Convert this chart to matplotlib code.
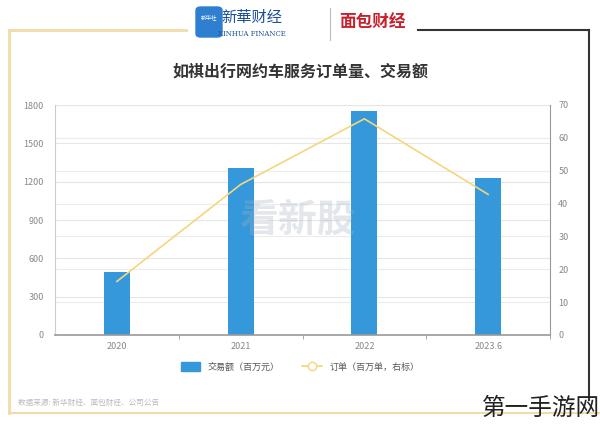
import matplotlib.pyplot as plt
from matplotlib.lines import Line2D
from matplotlib.patches import FancyBboxPatch

plt.rcParams['font.family'] = ['Noto Sans CJK SC', 'DejaVu Sans']

# 数据
years = ['2020', '2021', '2022', '2023.6']
gmv = [490, 1305, 1750, 1228]          # 交易额（百万元）
orders = [16.3, 45.8, 65.8, 42.8]      # 订单（百万单，右标）
left_ticks = [0, 300, 600, 900, 1200, 1500, 1800]
right_ticks = [0, 10, 20, 30, 40, 50, 60, 70]

W, H = 600, 424
fig = plt.figure(figsize=(6, 4.24), dpi=100)
fig.patch.set_facecolor('white')


def fx(px):
    return px / W


def fy(py):
    return 1 - py / H


# 外框
gold = '#f0dca8'
fig.add_artist(Line2D([fx(9), fx(9)], [fy(30), fy(413)], color=gold, lw=2))
fig.add_artist(Line2D([fx(9), fx(186)], [fy(30), fy(30)], color=gold, lw=2))
fig.add_artist(Line2D([fx(9), fx(600)], [fy(413), fy(413)], color=gold, lw=1.5))
fig.add_artist(Line2D([fx(418), fx(589)], [fy(30), fy(30)], color='#333333', lw=1.5))
fig.add_artist(Line2D([fx(589), fx(589)], [fy(30), fy(400)], color='#333333', lw=1.5))

# 标志
fig.add_artist(FancyBboxPatch((fx(196), fy(37)), fx(26), 30 / H,
                              boxstyle='round,pad=0,rounding_size=0.008',
                              color='#2f7fd0', transform=fig.transFigure))
fig.text(fx(209), fy(17), '新华社', fontsize=4, color='white', ha='center', va='center')
fig.text(fx(252), fy(17), '新華财经', fontsize=11, color='#1d4f9a', ha='center',
         va='center', style='italic')
fig.text(fx(252), fy(34), 'XINHUA FINANCE', fontsize=5, color='#1d4f9a', ha='center',
         va='center', family='DejaVu Serif')
fig.add_artist(Line2D([fx(330), fx(330)], [fy(8), fy(40)], color='#bbbbbb', lw=0.8))
fig.text(fx(372), fy(22), '面包财经', fontsize=12, color='#c8202a', ha='center',
         va='center', weight='bold')

# 标题
fig.text(0.5, fy(72), '如祺出行网约车服务订单量、交易额', fontsize=11.5, color='#333333',
         ha='center', va='center', weight='bold')

rect = [fx(55), fy(335), fx(495), 230 / H]
ax2 = fig.add_axes(rect)          # 右轴网格（最底层）
ax2.yaxis.tick_right()
ax = fig.add_axes(rect, sharex=ax2)   # 柱状图
ax.patch.set_visible(False)
ax3 = fig.add_axes(rect, sharex=ax2)  # 折线（最上层）
ax3.patch.set_visible(False)
ax3.axis('off')

x = range(len(years))
ax.bar(x, gmv, width=0.21, color='#3498db', zorder=3)
ax3.plot(x, orders, color='#f5d67a', lw=1.2)

ax2.set_xlim(-0.5, len(years) - 0.5)
ax.set_ylim(0, 1800)
ax2.set_ylim(0, 70)
ax3.set_ylim(0, 70)
ax.set_yticks(left_ticks)
ax2.set_yticks(right_ticks)
ax.set_xticks(list(x))
ax.set_xticklabels(years)
ax.set_xticks([i + 0.5 for i in x], minor=True)
ax2.tick_params(axis='x', which='both', bottom=False, labelbottom=False)

ax.grid(axis='y', color='#e6e6e6', lw=0.8, zorder=0)
ax2.grid(axis='y', color='#ececec', lw=0.8, zorder=0)

for a in (ax, ax2):
    for s in a.spines.values():
        s.set_visible(False)
    a.tick_params(axis='y', length=0, labelsize=6.5, labelcolor='#888888', pad=8)
ax.spines['left'].set_visible(True)
ax.spines['left'].set_color('#cccccc')
ax2.spines['right'].set_visible(True)
ax2.spines['right'].set_color('#999999')
ax.spines['bottom'].set_visible(True)
ax.spines['bottom'].set_color('#999999')
ax.spines['bottom'].set_linewidth(1.2)
ax.spines['bottom'].set_zorder(5)
ax.tick_params(axis='x', which='major', length=0, labelsize=6.5, labelcolor='#888888', pad=5)
ax.tick_params(axis='x', which='minor', length=3, color='#999999')
ax2.tick_params(axis='y', pad=6)

# 水印
fig.text(fx(297), fy(220), '看新股', fontsize=28, color='#a4b2c2', alpha=0.3,
         ha='center', va='center', weight='bold', style='italic')

# 图例
handles = [plt.Rectangle((0, 0), 1, 1, color='#3498db'),
           Line2D([0], [0], color='#f5d67a', lw=1.2, marker='o', markersize=6,
                  markerfacecolor='white', markeredgecolor='#f5d67a')]
fig.legend(handles, ['交易额（百万元）', '订单（百万单，右标）'], loc='center',
           bbox_to_anchor=(0.5, fy(367)), ncol=2, frameon=False, fontsize=6.5,
           labelcolor='#555555', handlelength=2.2, handleheight=1.0, columnspacing=2.5)

fig.text(fx(18), fy(403), '数据来源: 新华财经、面包财经、公司公告', fontsize=5.5,
         color='#bbbbbb', ha='left', va='center')
fig.text(fx(600), fy(408), '第一手游网', fontsize=17, color='#222222',
         ha='right', va='center', weight='light')

fig.savefig('out.png', dpi=100, facecolor='white')
